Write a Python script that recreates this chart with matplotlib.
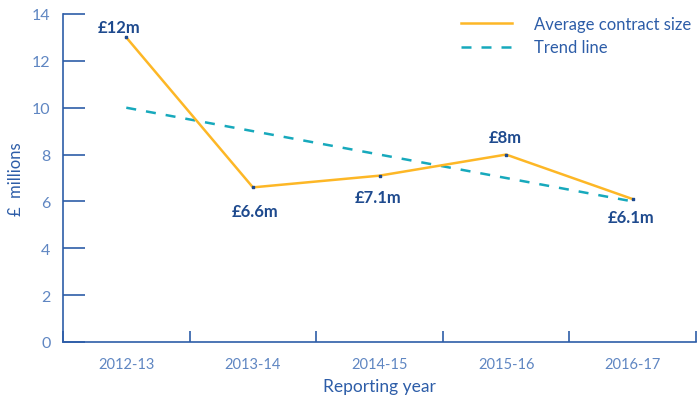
import numpy as np
import matplotlib
matplotlib.use("Agg")
from matplotlib import pyplot as plt

# data
years = ["2012-13", "2013-14", "2014-15", "2015-16", "2016-17"]
avg_size = [13.0, 6.6, 7.1, 8.0, 6.1]
trend = [10.0, 9.0, 8.0, 7.0, 6.0]
point_labels = ["£12m", "£6.6m", "£7.1m", "£8m", "£6.1m"]
y_ticks = [0, 2, 4, 6, 8, 10, 12, 14]

ORANGE = "#FDB726"
TEAL = "#17A9BC"
AXIS = "#2D5DA8"
TICKTXT = "#5F86C2"
LABEL = "#1E4A8E"

plt.rcParams['font.family'] = ['Lato', 'DejaVu Sans']

fig = plt.figure(figsize=(6.98, 4.02), dpi=100)
ax = fig.add_axes([63 / 698, 59 / 402, 633 / 698, 328 / 402])

x = np.arange(len(years))
ax.plot(x, avg_size, color=ORANGE, lw=1.8, label="Average contract size", zorder=3)
ax.plot(x, trend, color=TEAL, lw=1.8, ls=(0, (4, 4)), label="Trend line", zorder=2)
ax.scatter(x, avg_size, marker="s", s=3, color=LABEL, zorder=4)

# label offsets in pixels (dx, dy)
offsets = [(-7, 10), (2, -24), (-1, -21), (-1, 18), (-2, -18)]
for xi, yi, lab, (dx, dy) in zip(x, avg_size, point_labels, offsets):
    ax.annotate(lab, (xi, yi), xytext=(dx, dy), textcoords="offset pixels",
                ha="center", va="center", fontsize=12, fontweight="bold",
                color=LABEL)

ax.set_xlim(-0.5, len(years) - 0.5)
ax.set_ylim(0, 14)
ax.set_yticks(y_ticks)
ax.set_yticklabels([str(v) for v in y_ticks])
ax.set_xticks(x)
ax.set_xticklabels(years)
ax.set_xticks(np.arange(len(years) + 1) - 0.5, minor=True)

ax.tick_params(axis="y", direction="in", length=16, width=1.2, color=AXIS,
               labelcolor=TICKTXT, labelsize=11.5, pad=9)
ax.tick_params(axis="x", which="major", length=0, labelcolor=TICKTXT,
               labelsize=10.5, pad=11)
ax.tick_params(axis="x", which="minor", direction="in", length=8, width=1.2,
               color=AXIS)

for s in ["top", "right"]:
    ax.spines[s].set_visible(False)
for s in ["left", "bottom"]:
    ax.spines[s].set_color(AXIS)
    ax.spines[s].set_linewidth(1.2)

ax.set_ylabel("£  millions", color=AXIS, fontsize=12, labelpad=6)
ax.set_xlabel("Reporting year", color=AXIS, fontsize=12.5, labelpad=5)

leg = ax.legend(loc="upper right", bbox_to_anchor=(1.016, 1.04), frameon=False,
                fontsize=12, handlelength=3.1, handletextpad=1.3,
                labelspacing=0.45)
for t in leg.get_texts():
    t.set_color(AXIS)

fig.savefig("out.png", dpi=100)
